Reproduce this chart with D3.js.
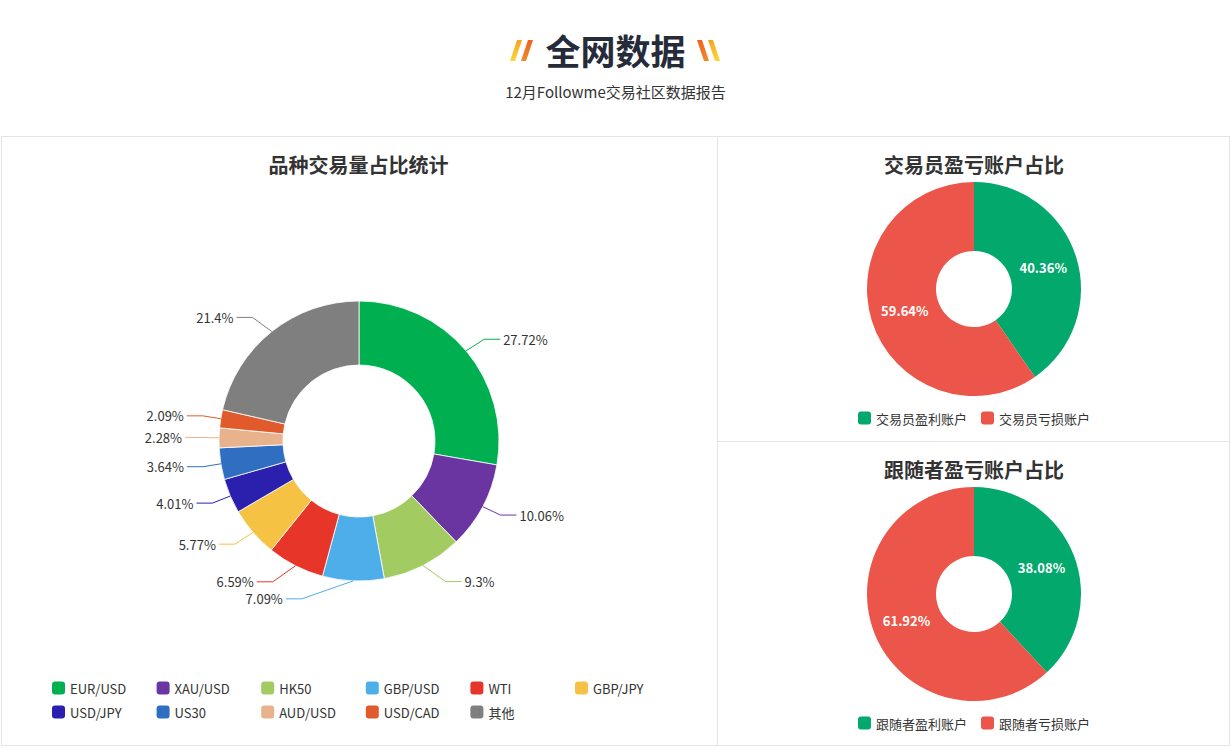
<!DOCTYPE html>
<html><head><meta charset="utf-8">
<script src="https://cdn.jsdelivr.net/npm/d3@7"></script>
<style>
html,body{margin:0;padding:0;background:#fff;}
svg text{font-family:"Microsoft YaHei","Noto Sans CJK SC","Noto Sans",sans-serif;}
</style></head>
<body><svg id="c" width="1231" height="748"></svg>
<script>
// ---- data ----
const mainTitle = "全网数据";
const subTitle = "12月Followme交易社区数据报告";
const symTitle = "品种交易量占比统计";
const symbols = ["EUR/USD","XAU/USD","HK50","GBP/USD","WTI","GBP/JPY","USD/JPY","US30","AUD/USD","USD/CAD","其他"];
const symValues = [27.72,10.06,9.3,7.09,6.59,5.77,4.01,3.64,2.28,2.09,21.4];
const symColors = ["#00b050","#6a35a0","#a2cb62","#4daeea","#e8352a","#f5c244","#2b1fae","#2f6ec0","#e8b38c","#e05a2b","#7f7f7f"];

const traderTitle = "交易员盈亏账户占比";
const traderCats = ["交易员盈利账户","交易员亏损账户"];
const traderValues = [40.36,59.64];
const followerTitle = "跟随者盈亏账户占比";
const followerCats = ["跟随者盈利账户","跟随者亏损账户"];
const followerValues = [38.08,61.92];
const pnlColors = ["#02a86c","#ec5549"];

// ---- drawing ----
const svg = d3.select("#c");

// header
svg.append("text").attr("x",615.5).attr("y",49).attr("text-anchor","middle")
  .attr("dominant-baseline","central").attr("font-size",35).attr("font-weight","bold")
  .attr("fill","#262b3a").text(mainTitle);
svg.append("text").attr("x",615.5).attr("y",91).attr("text-anchor","middle")
  .attr("dominant-baseline","central").attr("font-size",15).attr("fill","#333").text(subTitle);

// slash decorations
const defs = svg.append("defs");
function grad(id, c1, c2){
  const g = defs.append("linearGradient").attr("id",id).attr("x1",0).attr("y1",0).attr("x2",0).attr("y2",1);
  g.append("stop").attr("offset","0%").attr("stop-color",c1);
  g.append("stop").attr("offset","100%").attr("stop-color",c2);
}
grad("gy","#f7a324","#fbd83a");
grad("go","#f2621c","#f08a2a");
function slash(x0, lean, fill){
  const top=40, bot=61, w=5;
  const pts = lean>0
    ? [[x0,bot],[x0+w,bot],[x0+w+7,top],[x0+7,top]]
    : [[x0+7,bot],[x0+7+w,bot],[x0+w,top],[x0,top]];
  svg.append("polygon").attr("points",pts.map(p=>p.join(",")).join(" ")).attr("fill",fill);
}
slash(510,1,"url(#gy)");
slash(521,1,"url(#go)");
slash(697,-1,"url(#go)");
slash(708,-1,"url(#gy)");

// panel borders
const bc = "#e4e4e4";
svg.append("rect").attr("x",1.5).attr("y",136.5).attr("width",1228).attr("height",609)
  .attr("fill","none").attr("stroke",bc);
svg.append("line").attr("x1",717.5).attr("x2",717.5).attr("y1",136).attr("y2",746).attr("stroke",bc);
svg.append("line").attr("x1",717).attr("x2",1230).attr("y1",441.5).attr("y2",441.5).attr("stroke",bc);

function title(x,y,t){
  svg.append("text").attr("x",x).attr("y",y).attr("text-anchor","middle")
    .attr("dominant-baseline","central").attr("font-size",20).attr("font-weight","bold")
    .attr("fill","#333").text(t);
}
title(358.5,164,symTitle);
title(974,164,traderTitle);
title(974,469,followerTitle);

// main donut
const cx=359, cy=441, R=140, r0=76, len1=18, len2=16;
const pie = d3.pie().sort(null).value(d=>d.v);
const arcs = pie(symbols.map((s,i)=>({name:s,v:symValues[i],c:symColors[i]})));
const arc = d3.arc().innerRadius(r0).outerRadius(R);
const g = svg.append("g").attr("transform",`translate(${cx},${cy})`);
g.selectAll("path").data(arcs).join("path").attr("d",arc).attr("fill",d=>d.data.c)
  .attr("stroke","#fff").attr("stroke-width",0.8);

arcs.forEach(d=>{
  const a=(d.startAngle+d.endAngle)/2;
  const dir = Math.sin(a)>=0?1:-1;
  const p1=[R*Math.sin(a), -R*Math.cos(a)];
  const y = -(R+len1)*Math.cos(a);
  const dy=Math.abs(y);
  const rr=R+len1+len2;
  const dx = dy < R+len1 ? Math.sqrt(rr*rr-dy*dy) : Math.abs((R+len1)*Math.sin(a))+len2;
  const p3=[dir*dx, y];
  const p2=[p3[0]-dir*len2, y];
  g.append("polyline").attr("points",[p1,p2,p3].map(p=>p.join(",")).join(" "))
    .attr("fill","none").attr("stroke",d.data.c).attr("stroke-width",1);
  g.append("text").attr("x",p3[0]+dir*3).attr("y",y).attr("text-anchor",dir>0?"start":"end")
    .attr("dominant-baseline","central").attr("font-size",13).attr("fill","#333")
    .text(d.data.v+"%");
});

// main legend
const lg = svg.append("g");
symbols.forEach((s,i)=>{
  const col=i%6, row=Math.floor(i/6);
  const x=52+col*104.6, y=688+row*24;
  lg.append("rect").attr("x",x).attr("y",y-6.5).attr("width",13).attr("height",13).attr("rx",3)
    .attr("fill",symColors[i]);
  lg.append("text").attr("x",x+18).attr("y",y).attr("dominant-baseline","central")
    .attr("font-size",13).attr("fill","#333").text(s);
});

// small donuts
function smallDonut(cyy, cats, vals, legY){
  const Rs=107, rs=38;
  const gg = svg.append("g").attr("transform",`translate(974,${cyy})`);
  const aa = d3.pie().sort(null)(vals);
  const ar = d3.arc().innerRadius(rs).outerRadius(Rs);
  gg.selectAll("path").data(aa).join("path").attr("d",ar).attr("fill",(d,i)=>pnlColors[i]);
  const mid = d3.arc().innerRadius((Rs+rs)/2).outerRadius((Rs+rs)/2);
  gg.selectAll("text").data(aa).join("text").attr("transform",d=>`translate(${mid.centroid(d)})`)
    .attr("text-anchor","middle").attr("dominant-baseline","central").attr("font-size",13)
    .attr("font-weight","bold").attr("fill","#fff").text(d=>d.data+"%");
  const lgg = svg.append("g");
  const items=[];
  let x=0;
  cats.forEach((c,i)=>{
    const it = lgg.append("g");
    it.append("rect").attr("x",0).attr("y",-6.5).attr("width",13).attr("height",13).attr("rx",3).attr("fill",pnlColors[i]);
    const t=it.append("text").attr("x",18).attr("y",0).attr("dominant-baseline","central")
      .attr("font-size",13).attr("fill","#333").text(c);
    const w=18+t.node().getComputedTextLength();
    items.push({it,x,w});
    x+=w+14;
  });
  const total=x-14;
  const start=974-total/2;
  items.forEach(o=>o.it.attr("transform",`translate(${start+o.x},${legY})`));
}
smallDonut(289, traderCats, traderValues, 418);
smallDonut(594, followerCats, followerValues, 723);
</script></body></html>
